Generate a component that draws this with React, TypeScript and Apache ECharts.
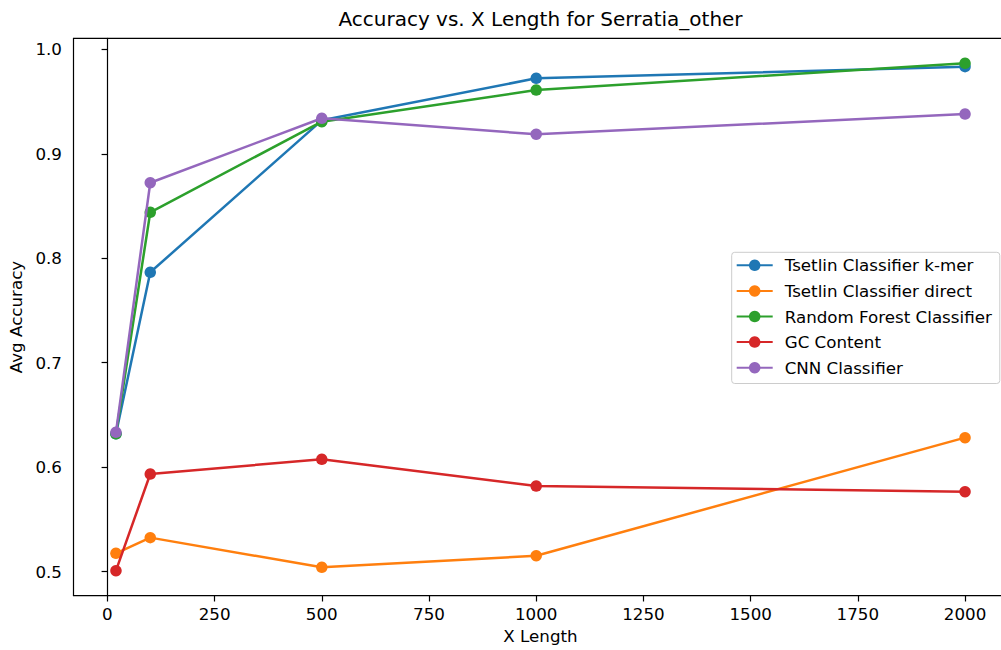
import React, { useEffect, useRef } from "react";
import * as echarts from "echarts";

// Sequence lengths evaluated
const xLengths = [20, 100, 500, 1000, 2000];

// Average accuracy per classifier at each length
const tsetlinKmer = [0.632, 0.7866, 0.932, 0.9722, 0.9834];
const tsetlinDirect = [0.5176, 0.5326, 0.5042, 0.5153, 0.6283];
const randomForest = [0.632, 0.844, 0.9307, 0.961, 0.9866];
const gcContent = [0.501, 0.5935, 0.6076, 0.582, 0.5766];
const cnnClassifier = [0.6334, 0.8723, 0.934, 0.9187, 0.938];

const seriesNames = [
  "Tsetlin Classifier k-mer",
  "Tsetlin Classifier direct",
  "Random Forest Classifier",
  "GC Content",
  "CNN Classifier",
];
const seriesValues = [tsetlinKmer, tsetlinDirect, randomForest, gcContent, cnnClassifier];
const seriesColors = ["#1f77b4", "#ff7f0e", "#2ca02c", "#d62728", "#9467bd"];

// Tick labels
const xTicks = [0, 250, 500, 750, 1000, 1250, 1500, 1750, 2000];
const yTicks = [0.5, 0.6, 0.7, 0.8, 0.9, 1.0];

const FONT = "DejaVu Sans";
const LABEL_SIZE = 16.7;

export default function App() {
  const ref = useRef<HTMLDivElement>(null);

  useEffect(() => {
    if (!ref.current) return;
    const chart = echarts.init(ref.current, undefined, { renderer: "svg" });
    const series = seriesNames.map((name, i) => ({
      name,
      type: "line",
      data: xLengths.map((x, j) => [x, seriesValues[i][j]]),
      symbol: "circle",
      symbolSize: 11.5,
      showSymbol: true,
      lineStyle: { width: 2.5, color: seriesColors[i] },
      itemStyle: { color: seriesColors[i] },
      emphasis: { disabled: true },
      z: 2 + i,
    }));

    chart.setOption({
      animation: false,
      textStyle: { fontFamily: FONT },
      title: {
        text: "Accuracy vs. X Length for Serratia_other",
        left: 540.5,
        textAlign: "center",
        top: 8.5,
        padding: 0,
        textStyle: { fontFamily: FONT, fontSize: 20, fontWeight: "normal", color: "#000" },
      },
      grid: {
        left: 73.5,
        top: 38.3,
        width: 934,
        height: 557.4,
        outerBoundsMode: "none",
        containLabel: false,
        show: true,
        borderColor: "#000",
        borderWidth: 1.2,
        backgroundColor: "transparent",
      },
      xAxis: {
        type: "value",
        min: -79,
        max: 2099,
        name: "X Length",
        nameLocation: "middle",
        nameGap: 32,
        nameTextStyle: { fontFamily: FONT, fontSize: LABEL_SIZE, color: "#000" },
        axisLine: { show: true, lineStyle: { color: "#000", width: 1.2 } },
        axisTick: {
          show: true,
          length: 5.8,
          lineStyle: { color: "#000", width: 1.2 },
          customValues: xTicks,
        },
        axisLabel: {
          margin: 10,
          fontFamily: FONT,
          fontSize: LABEL_SIZE,
          color: "#000",
          customValues: xTicks,
          formatter: (v: number) => String(v),
        },
        splitLine: { show: false },
      },
      yAxis: {
        type: "value",
        min: 0.47703,
        max: 1.01053,
        name: "Avg Accuracy",
        nameLocation: "middle",
        nameGap: 46,
        nameRotate: 90,
        nameTextStyle: { fontFamily: FONT, fontSize: LABEL_SIZE, color: "#000" },
        axisLine: { show: true, lineStyle: { color: "#000", width: 1.2 } },
        axisTick: {
          show: true,
          length: 5.8,
          lineStyle: { color: "#000", width: 1.2 },
          customValues: yTicks,
        },
        axisLabel: {
          margin: 11.5,
          fontFamily: FONT,
          fontSize: LABEL_SIZE,
          color: "#000",
          customValues: yTicks,
          formatter: (v: number) => v.toFixed(1),
        },
        splitLine: { show: false },
      },
      legend: {
        orient: "vertical",
        left: 731.7,
        top: 252.3,
        padding: [4.5, 8, 7.3, 4],
        itemWidth: 36,
        itemHeight: 14.4,
        itemGap: 8.6,
        backgroundColor: "rgba(255,255,255,0.8)",
        borderColor: "#cccccc",
        borderWidth: 1,
        borderRadius: 3,
        selectedMode: false,
        textStyle: { fontFamily: FONT, fontSize: LABEL_SIZE, color: "#000", padding: [0, 0, 0, 7] },
        data: seriesNames,
      },
      series,
    });
    return () => chart.dispose();
  }, []);

  return (
    <div
      ref={ref}
      style={{ position: "fixed", left: 0, top: 0, width: 1008, height: 650, background: "#fff" }}
    />
  );
}
